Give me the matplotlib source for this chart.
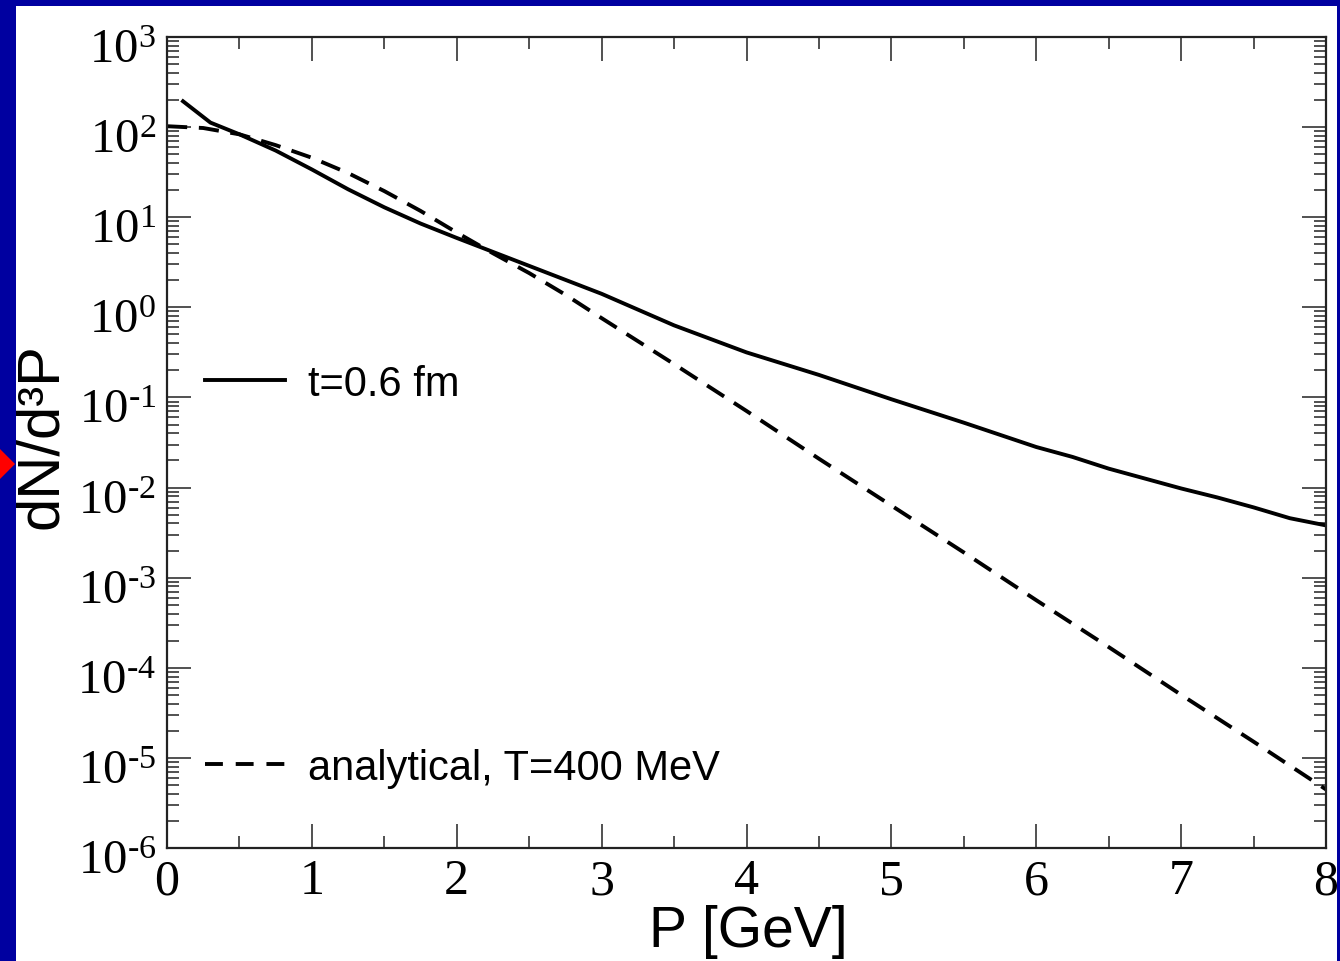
import matplotlib
matplotlib.use("Agg")
import matplotlib.pyplot as plt
import numpy as np
from matplotlib.ticker import LogLocator, MultipleLocator, FuncFormatter, NullFormatter, FixedLocator
from matplotlib.patches import Rectangle, Polygon
from matplotlib.lines import Line2D
from matplotlib.transforms import ScaledTranslation

# ---- data ----
p_sim = [0.1, 0.3, 0.5, 0.75, 1.0, 1.25, 1.5, 1.75, 2.0, 2.5, 3.0, 3.5, 4.0,
         4.5, 5.0, 5.5, 6.0, 6.25, 6.5, 6.75, 7.0, 7.25, 7.5, 7.75, 8.0]
log_sim = [2.30, 2.05, 1.92, 1.74, 1.53, 1.31, 1.11, 0.93, 0.77, 0.46, 0.15,
           -0.20, -0.50, -0.75, -1.02, -1.28, -1.55, -1.66, -1.79, -1.90,
           -2.01, -2.11, -2.22, -2.34, -2.42]
dNdP_sim = [10 ** v for v in log_sim]

p_ana = [0.0, 0.25, 0.5, 0.75, 1.0, 1.25, 1.5, 1.75, 2.0, 2.25, 2.5, 2.75, 3.0,
         3.5, 4.0, 4.5, 5.0, 5.5, 6.0, 6.5, 7.0, 7.5, 8.0]
log_ana = [2.01, 1.99, 1.92, 1.80, 1.66, 1.49, 1.29, 1.07, 0.83, 0.60, 0.38,
           0.14, -0.12, -0.63, -1.15, -1.68, -2.20, -2.72, -3.25, -3.77,
           -4.30, -4.82, -5.35]
dNdP_ana = [10 ** v for v in log_ana]

x_ticks = [0, 1, 2, 3, 4, 5, 6, 7, 8]
y_exponents = [-6, -5, -4, -3, -2, -1, 0, 1, 2, 3]

label_sim = "t=0.6 fm"
label_ana = "analytical, T=400 MeV"
xlabel = "P [GeV]"
ylabel = "dN/d\u00b3P"

# ---- styling ----
plt.rcParams['mathtext.fontset'] = 'custom'
plt.rcParams['mathtext.rm'] = 'Liberation Serif'
plt.rcParams['mathtext.it'] = 'Liberation Serif'
plt.rcParams['mathtext.default'] = 'rm'

W, H = 1340, 962
fig = plt.figure(figsize=(W / 100, H / 100), dpi=100)
fig.patch.set_facecolor('#0000A0')
fig.patches.append(Rectangle((16 / W, 0), (1337 - 16) / W, 1 - 7 / H,
                             transform=fig.transFigure, facecolor='white',
                             edgecolor='none', zorder=-5))
# red marker at left edge
fig.patches.append(Polygon([(-15 / W, 1 - 465 / H), (0, 1 - 450 / H),
                            (15 / W, 1 - 465 / H), (0, 1 - 480 / H)],
                           closed=True, transform=fig.transFigure,
                           facecolor='#FF0000', edgecolor='none', zorder=-4))

ax = fig.add_axes([167 / W, 1 - 849 / H, (1326 - 167) / W, (849 - 38) / H])
ax.set_zorder(1)
ax.set_facecolor('white')

ax.plot(p_sim, dNdP_sim, color='black', lw=2.8, solid_capstyle='butt')
ax.plot(p_ana, dNdP_ana, color='black', lw=2.8, dashes=(5.2, 3.0))

ax.set_yscale('log')
ax.set_xlim(0, 8)
ax.set_ylim(1e-6, 1e3)


def ylab(v, pos):
    e = int(round(np.log10(v)))
    if e < 0:
        return r'$10^{\text{-}%d}$' % (-e)
    return r'$10^{%d}$' % e


ax.xaxis.set_major_locator(FixedLocator(x_ticks))
ax.xaxis.set_minor_locator(MultipleLocator(0.5))
ax.yaxis.set_major_locator(FixedLocator([10.0 ** e for e in y_exponents]))
ax.yaxis.set_minor_locator(LogLocator(base=10, subs=np.arange(2, 10), numticks=20))
ax.yaxis.set_minor_formatter(NullFormatter())
ax.yaxis.set_major_formatter(FuncFormatter(ylab))

ax.tick_params(which='both', direction='in', top=True, right=True, color='#333333')
ax.tick_params(which='major', length=17, width=1.2)
ax.tick_params(which='minor', length=8.5, width=1.2)
ax.tick_params(axis='x', which='major', labelsize=36, pad=7)
ax.tick_params(axis='y', which='major', labelsize=35, pad=8)
for lab in ax.get_xticklabels():
    lab.set_fontfamily('Liberation Serif')
shift = ScaledTranslation(0, -6 / 100, fig.dpi_scale_trans)
for lab in ax.get_yticklabels():
    lab.set_transform(lab.get_transform() + shift)
for s in ax.spines.values():
    s.set_linewidth(1.6)
    s.set_color('#222222')

# legends (two separate entries, no frame)
h1 = Line2D([], [], color='black', lw=2.8)
h2 = Line2D([], [], color='black', lw=2.8, dashes=(4.6, 3.3))
leg_kw = dict(loc='center left', frameon=False, borderpad=0, borderaxespad=0,
              handlelength=1.92, handletextpad=0.55,
              prop={'family': 'Liberation Sans', 'size': 30})
leg1 = ax.legend([h1], [label_sim],
                 bbox_to_anchor=((205 - 167) / 1159, (849 - 385) / 811), **leg_kw)
ax.add_artist(leg1)
ax.legend([h2], [label_ana],
          bbox_to_anchor=((205 - 167) / 1159, (849 - 769) / 811), **leg_kw)

fig.text(748 / W, 1 - 932 / H, xlabel, ha='center', va='center',
         family='Liberation Sans', fontsize=41)
fig.text(42 / W, 1 - 436 / H, ylabel, ha='center', va='center', rotation=90,
         family='Liberation Sans', fontsize=43)

fig.savefig('out.png', dpi=100, facecolor=fig.get_facecolor())
